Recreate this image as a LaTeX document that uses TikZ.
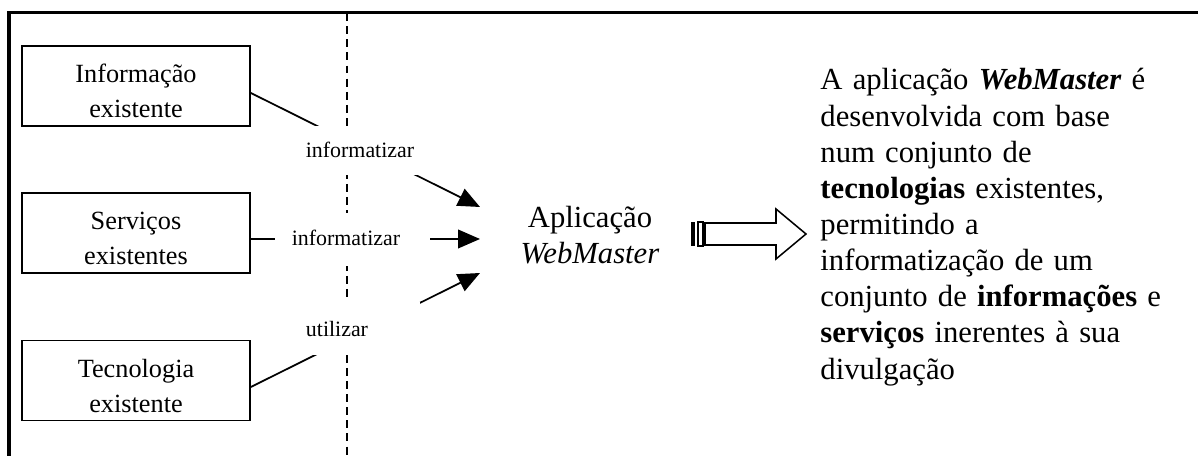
\documentclass[tikz,border=0pt]{standalone}
\usepackage{fontspec}
\setmainfont{Liberation Serif}
\usetikzlibrary{arrows.meta,calc}
\newdimen\pxu
\pxu=0.4566pt
\begin{document}
\begin{tikzpicture}[x=0.4566pt,y=-0.4566pt,
  frame/.style={line width=1.6pt},
  divider/.style={line width=0.7pt, dash pattern=on 3.6pt off 2.4pt},
  srcbox/.style={draw, line width=0.8pt, minimum width={228*\pxu}, minimum height={80*\pxu},
    inner sep=0pt, align=center, font=\fontsize{12}{16}\selectfont},
  linkarrow/.style={line width=0.8pt, -{Triangle[length=10pt,width=8.5pt]}},
  mask/.style={fill=white},
  tag/.style={inner sep=0pt, font=\fontsize{10}{12}\selectfont},
  bigtext/.style={inner sep=0pt, font=\fontsize{14}{16}\selectfont},
  desctext/.style={inner sep=0pt, font=\fontsize{14}{16.5}\selectfont},
  blockarrow/.style={draw, line width=0.7pt, fill=white, line join=miter}
]
\useasboundingbox (0,0) rectangle (1198,456);
\clip (0,0) rectangle (1198,456);

% outer frame (only the top and left edges are visible)
\draw[frame] (9,470) -- (9,12.5) -- (1220,12.5);

% dashed divider
\draw[divider] (347,13) -- (347,470);

% source boxes
\node[srcbox] (b1) at (136,86) {\rule{0pt}{13.2pt}Informação\\existente};
\node[srcbox] (b2) at (136,233) {\rule{0pt}{13.2pt}Serviços\\existentes};
\node[srcbox] (b3) at (136,380.5) {\rule{0pt}{13.2pt}Tecnologia\\existente};

% arrow end points in front of the application
\coordinate (t1) at (480,207);
\coordinate (t2) at (480,239);
\coordinate (t3) at (480,273);

% connectors
\draw[linkarrow] ($(b1.east)+(0,7)$) -- (t1);
\draw[linkarrow] ($(b2.east)+(0,6)$) -- (t2);
\draw[linkarrow] ($(b3.east)+(0,6.5)$) -- (t3);

% white areas behind the connector labels
\fill[mask] (300,126) rectangle (420,175);
\fill[mask] (275,213) rectangle (430,266);
\fill[mask] (300,302) rectangle (420,355);

% connector labels
\node[tag] (l1) at (360,149.5) {informatizar};
\node[tag] (l2) at (346,237.5) {informatizar};
\node[tag] (l3) at (337,329.5) {utilizar};

% the application
\node[bigtext, anchor=base, text width={170*\pxu}, align=center] (app) at (590,228)
  {Aplicação\\\textit{WebMaster}};

% striped block arrow
\fill (691,222) rectangle (695,246);
\draw[blockarrow] (698,222) rectangle (703,246);
\draw[blockarrow] (705,223) -- (776,223) -- (776,209) -- (806,234)
  -- (776,259) -- (776,245) -- (705,245) -- cycle;

% description
\node[desctext, anchor=base west, text width={400*\pxu}, align=left] (desc) at (820,90)
  {A aplicação \textbf{\textit{WebMaster}} é\\
   desenvolvida com base\\
   num conjunto de\\
   \textbf{tecnologias} existentes,\\
   permitindo a\\
   informatização de um\\
   conjunto de \textbf{informações} e\\
   \textbf{serviços} inerentes à sua\\
   divulgação};
\end{tikzpicture}
\end{document}
